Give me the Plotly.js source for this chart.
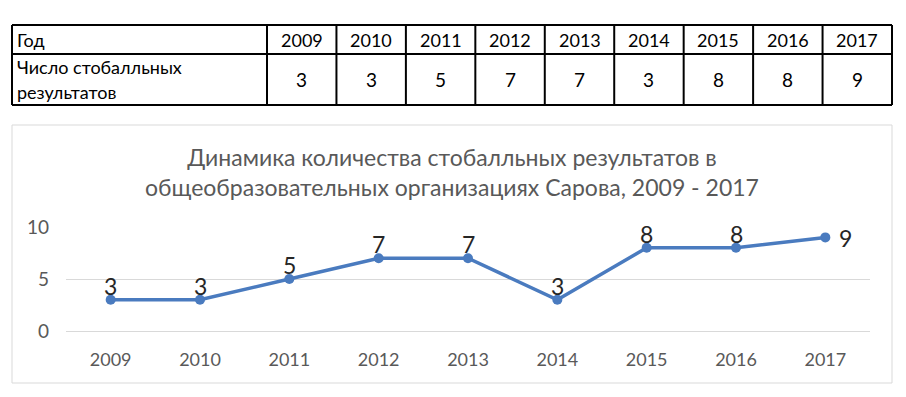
<!DOCTYPE html>
<html><head><meta charset="utf-8">
<script src="https://cdn.plot.ly/plotly-3.0.1.min.js"></script>
<style>html,body{margin:0;padding:0;background:#fff}#chart{width:906px;height:397px}</style>
</head><body><div id="chart"></div>
<script>
const years = ["2009","2010","2011","2012","2013","2014","2015","2016","2017"];
const values = [3,3,5,7,7,3,8,8,9];
const rowHeader = "Год";
const rowLabelLines = ["Число стобалльных", "результатов"];
const chartTitle = "Динамика количества стобалльных результатов в<br>общеобразовательных организациях Сарова, 2009 - 2017";
const yTicks = [0,5,10];

const W = 906, H = 397;
const FONT = "Lato, 'Open Sans', sans-serif";
const px = v => v / W;
const py = v => 1 - v / H;

// table geometry (pixels)
const T = {left: 12, right: 892, top: 25, mid: 54, bottom: 105, firstCol: 267};
const colW = (T.right - T.firstCol) / years.length;

const shapes = [];
const annotations = [];
const hline = y => shapes.push({type:"line", xref:"paper", yref:"paper",
  x0: px(T.left), x1: px(T.right), y0: py(y), y1: py(y), line:{color:"#000", width:2}});
const vline = x => shapes.push({type:"line", xref:"paper", yref:"paper",
  x0: px(x), x1: px(x), y0: py(T.top), y1: py(T.bottom), line:{color:"#000", width:2}});
[T.top, T.mid, T.bottom].forEach(hline);
vline(T.left); vline(T.firstCol);
years.forEach((y, i) => vline(T.firstCol + colW * (i + 1)));

const cellFont = {family: FONT, size: 18, color: "#000"};
annotations.push({xref:"paper", yref:"paper", x: px(T.left + 3), y: py((T.top + T.mid) / 2),
  xanchor:"left", yanchor:"middle", text: rowHeader, showarrow:false, font: cellFont});
const lineStep = (T.bottom - T.mid) / rowLabelLines.length;
rowLabelLines.forEach((t, k) => annotations.push({xref:"paper", yref:"paper",
  x: px(T.left + 3), y: py(T.mid + lineStep * (k + 0.5)),
  xanchor:"left", yanchor:"middle", text: t, showarrow:false, font: cellFont}));
years.forEach((yr, i) => {
  const cx = T.firstCol + colW * (i + 0.5);
  annotations.push({xref:"paper", yref:"paper", x: px(cx), y: py((T.top + T.mid) / 2),
    xanchor:"center", yanchor:"middle", text: yr, showarrow:false, font: cellFont});
  annotations.push({xref:"paper", yref:"paper", x: px(cx), y: py((T.mid + T.bottom) / 2),
    xanchor:"center", yanchor:"middle", text: String(values[i]), showarrow:false,
    font: {family: FONT, size: 19, color: "#000"}});
});

// data labels, placed in data coordinates (category index on x)
const last = values.length - 1;
years.forEach((yr, i) => {
  const isLast = i === last;
  annotations.push({
    xref: "x", yref: "y", x: i, y: values[i],
    xanchor: isLast ? "left" : "center", yanchor: "middle",
    xshift: isLast ? 12 : 0, yshift: isLast ? -1 : 14,
    text: String(values[i]), showarrow: false,
    font: {family: FONT, size: 23, color: "#262626"}
  });
});

annotations.push({
  xref: "paper", yref: "paper",
  x: px(452), y: py(172),
  xanchor: "center", yanchor: "middle",
  text: chartTitle, showarrow: false, align: "center",
  font: {family: FONT, size: 23, color: "#595959"}
});
shapes.push({
  type: "rect", xref: "paper", yref: "paper",
  x0: px(12), x1: px(892), y0: py(383), y1: py(125),
  line: {color: "#d9d9d9", width: 1}
});

const line = {
  type: "scatter",
  mode: "lines+markers",
  x: years,
  y: values,
  line: {color: "#4a7bbf", width: 3.5},
  marker: {color: "#4a7bbf", size: 10},
  cliponaxis: false,
  hoverinfo: "skip"
};

const layout = {
  width: W, height: H,
  margin: {l:0, r:0, t:0, b:0},
  paper_bgcolor: "#fff", plot_bgcolor: "#fff",
  showlegend: false,
  font: {family: FONT, color: "#595959"},
  xaxis: {
    domain: [px(66), px(870)],
    type: "category",
    range: [-0.5, years.length - 0.5],
    showgrid: false, zeroline: false, showline: false,
    ticks: "",
    tickfont: {family: FONT, size: 18, color: "#595959"},
    ticklabelstandoff: 16
  },
  yaxis: {
    domain: [py(331), py(227)],
    range: [0, 10],
    tickvals: yTicks,
    showgrid: true, gridcolor: "#d9d9d9", gridwidth: 1,
    zeroline: true, zerolinecolor: "#d9d9d9", zerolinewidth: 1,
    showline: false, ticks: "",
    tickfont: {family: FONT, size: 19, color: "#595959"},
    ticklabelstandoff: 16
  },
  annotations: annotations,
  shapes: shapes
};

Plotly.newPlot("chart", [line], layout, {displayModeBar: false, staticPlot: true});
</script>
</body></html>
